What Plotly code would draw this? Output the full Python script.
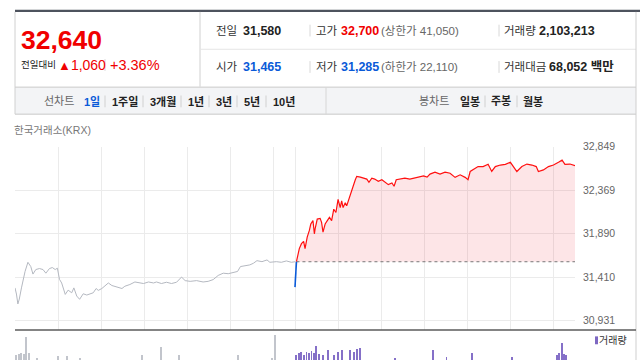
import plotly.graph_objects as go

# ---------------- data ----------------
# previous trading day intraday (minutes from 09:00, price)
prev_min = [0, 2, 4, 6, 9, 14, 18, 22, 25, 29, 34, 39, 43, 48, 52, 56, 59, 62, 65, 70,
            74, 79, 82, 86, 90, 95, 100, 104, 109, 113, 116, 121, 125, 130, 135, 139, 144, 149, 153, 160,
            167, 174, 179, 186, 193, 197, 204, 211, 218, 225, 232, 237, 244, 253, 262, 269, 276, 283, 290, 297,
            304, 310, 314, 320, 327, 332, 337, 344, 351, 355, 364, 371, 378, 385, 390]
prev_price = [31292, 31224, 31115, 31169, 31292, 31473, 31574, 31527, 31444, 31494, 31505, 31494, 31454, 31505, 31516, 31494, 31509, 31386, 31346, 31220,
              31267, 31238, 31292, 31202, 31166, 31227, 31213, 31227, 31238, 31285, 31264, 31285, 31310, 31346, 31318, 31310, 31292, 31285, 31310, 31329,
              31357, 31346, 31340, 31357, 31346, 31357, 31340, 31354, 31340, 31354, 31411, 31372, 31364, 31372, 31357, 31364, 31383, 31429, 31454, 31448,
              31459, 31473, 31527, 31538, 31545, 31563, 31592, 31581, 31600, 31574, 31581, 31574, 31589, 31574, 31580]

prev_close = 31580

# today: part below previous close (blue) and above (red)
down_min = [390, 392]
down_price = [31300, 31580]

up_min = [392, 396, 399, 402, 404, 407, 410, 412, 415, 417, 418, 421, 425, 427, 429, 432, 435, 438, 441, 444,
          447, 450, 453, 455, 457, 460, 462, 464, 467, 469, 471, 474, 476, 481, 485, 490, 493, 497, 501, 506,
          511, 515, 520, 525, 528, 531, 536, 543, 550, 557, 564, 569, 574, 578, 585, 592, 599, 606, 613, 620,
          627, 631, 634, 638, 645, 652, 659, 664, 669, 676, 683, 690, 694, 699, 706, 713, 720, 726, 729, 736,
          743, 750, 757, 762, 766, 773, 780]
up_price = [31580, 31725, 31779, 31805, 31725, 31852, 31925, 31996, 32033, 31888, 31942, 32050, 32058, 32015, 31906, 31996, 32033, 32069, 32033, 32159,
            32123, 32267, 32177, 32250, 32177, 32231, 32196, 32250, 32321, 32375, 32412, 32484, 32521, 32513, 32502, 32491, 32456, 32502, 32491, 32466,
            32484, 32456, 32430, 32448, 32412, 32484, 32491, 32502, 32491, 32502, 32513, 32527, 32513, 32546, 32567, 32546, 32567, 32556, 32510, 32538,
            32510, 32484, 32575, 32592, 32629, 32629, 32654, 32575, 32629, 32646, 32654, 32676, 32629, 32575, 32629, 32657, 32646, 32629, 32575, 32592,
            32629, 32646, 32676, 32700, 32654, 32657, 32640]

# volume (shares)
prev_vol_min = [1, 5, 8, 12, 15, 19, 30, 60, 72, 91, 177, 204, 229, 311, 358, 362]
prev_vol = [4700, 5300, 6300, 5700, 23000, 6300, 1300, 3700, 3700, 1300, 4700, 13000, 4700, 4700, 2000, 25300]
today_vol_min = [392, 396, 399, 403, 406, 410, 413, 417, 419, 423, 429, 436, 444, 450, 455, 467, 472, 476, 480, 529,
                 582, 601, 636, 692, 755, 758, 762, 765, 768]
today_vol = [4700, 6300, 7300, 4700, 8000, 6300, 8700, 6300, 14000, 5300, 4700, 9700, 4700, 8000, 9700, 9700, 7300, 10700, 11300, 1300,
             9700, 3000, 6300, 3000, 4700, 6300, 17300, 5300, 4700]

# axis ticks
y_ticks = [30931, 31410, 31890, 32369, 32849]
y_range = [30833, 32849]
x_grid = [0, 60, 120, 180, 240, 300, 360, 390, 450, 510, 570, 630, 690, 750]
x_range = [0, 780]

# header info
cur_price = "32,640"
change_label = "전일대비"
change_arrow = "▲"
change_val = "1,060"
change_pct = "+3.36%"
prev_close_txt = "31,580"
open_txt = "31,465"
high_txt = "32,700"
low_txt = "31,285"
upper_limit = "(상한가 41,050)"
lower_limit = "(하한가 22,110)"
volume_txt = "2,103,213"
value_txt = "68,052"
periods = ["1일", "1주일", "3개월", "1년", "3년", "5년", "10년"]
period_x = [84, 112, 150, 188, 216, 244, 273]
candles = ["일봉", "주봉", "월봉"]
candle_x = [460, 491, 523]

RED = "#f00000"
BLUE = "#0a5ad8"
W, H = 640, 360
FONT = "Liberation Sans, Noto Sans CJK KR, sans-serif"


def px(x):
    return x / W


def py(y):
    return 1 - y / H


fig = go.Figure()

# price traces
fig.add_trace(go.Scatter(x=prev_min, y=prev_price, mode="lines",
                         line=dict(color="#b4b8c0", width=1), xaxis="x", yaxis="y",
                         hoverinfo="skip", showlegend=False))
# baseline (previous close) - dotted, fill target
fig.add_trace(go.Scatter(x=[up_min[0], up_min[-1]], y=[prev_close, prev_close], mode="lines",
                         line=dict(color="#777777", width=1, dash="dot"), xaxis="x", yaxis="y",
                         hoverinfo="skip", showlegend=False))
fig.add_trace(go.Scatter(x=up_min, y=up_price, mode="lines", fill="tonexty",
                         fillcolor="rgba(240,20,40,0.11)",
                         line=dict(color="#ff1010", width=1.2), xaxis="x", yaxis="y",
                         hoverinfo="skip", showlegend=False))
fig.add_trace(go.Scatter(x=down_min, y=down_price, mode="lines",
                         line=dict(color=BLUE, width=1.6), xaxis="x", yaxis="y",
                         hoverinfo="skip", showlegend=False))

# volume bars
fig.add_trace(go.Bar(x=prev_vol_min, y=prev_vol, width=1.3, marker=dict(color="#c2c5cc", line=dict(width=0)),
                     xaxis="x2", yaxis="y2", hoverinfo="skip", showlegend=False))
fig.add_trace(go.Bar(x=today_vol_min, y=today_vol, width=1.3, marker=dict(color="#8570c8", line=dict(width=0)),
                     xaxis="x2", yaxis="y2", hoverinfo="skip", showlegend=False))

shapes = []


def hline(x0, x1, y, color, width=1):
    shapes.append(dict(type="line", xref="paper", yref="paper", x0=px(x0), x1=px(x1), y0=py(y), y1=py(y),
                       line=dict(color=color, width=width)))


def vline(x, y0, y1, color, width=1):
    shapes.append(dict(type="line", xref="paper", yref="paper", x0=px(x), x1=px(x), y0=py(y0), y1=py(y1),
                       line=dict(color=color, width=width)))


# toolbar background
shapes.append(dict(type="rect", xref="paper", yref="paper", x0=px(15), x1=px(636), y0=py(110), y1=py(83),
                   fillcolor="#f3f4f6", line=dict(width=0), layer="below"))
hline(15, 640, 5, "#4e535e", 2.2)
vline(200, 6, 82, "#d0d0d0")
hline(200, 636, 44, "#e6e6e6")
hline(15, 636, 82.5, "#c8c8c8")
hline(15, 636, 110, "#c8c8c8")
vline(15, 6, 110, "#d0d0d0")
vline(636, 6, 360, "#cfcfcf")
vline(326, 83, 110, "#d6d6d6")
# small separators
for sx, sy in [(105, 60), (310, 25), (310, 62), (499, 25), (499, 62)]:
    vline(sx, sy - 6, sy + 6, "#d8d8d8")
for sx in [105, 143, 181, 209, 237, 266, 485, 517]:
    vline(sx, 91, 103, "#d0d0d0")
# chart bottom axis line
hline(15, 636, 329.5, "#5b5b5b", 1.6)
# legend marker for volume
shapes.append(dict(type="rect", xref="paper", yref="paper", x0=px(595), x1=px(598), y0=py(344), y1=py(336),
                   fillcolor="#7e68c2", line=dict(width=0)))

annotations = []


def txt(x, y, text, size, color="#333333", bold=False, anchor="left"):
    if bold:
        text = "<b>" + text + "</b>"
    annotations.append(dict(x=px(x), y=py(y), xref="paper", yref="paper", text=text, showarrow=False,
                            xanchor=anchor, yanchor="middle", font=dict(size=size, color=color, family=FONT),
                            borderpad=0, xshift=-1))


txt(21, 35, cur_price, 26.5, RED, bold=True)
txt(21, 60, change_label, 9.5, "#222222")
txt(58, 60, "<span style='font-size:13px'>" + change_arrow + "</span>" + change_val, 14, RED)
txt(110, 60, change_pct, 14.5, RED)

txt(216, 25, "전일", 11.5, "#333333")
txt(243, 25, prev_close_txt, 12.5, "#222222", bold=True)
txt(216, 62, "시가", 11.5, "#333333")
txt(243, 62, open_txt, 12.5, BLUE, bold=True)
txt(316, 25, "고가", 11.5, "#333333")
txt(341, 25, high_txt, 12.5, RED, bold=True)
txt(381, 25, upper_limit, 11.5, "#666666")
txt(316, 62, "저가", 11.5, "#333333")
txt(341, 62, low_txt, 12.5, BLUE, bold=True)
txt(381, 62, lower_limit, 11.5, "#666666")
txt(504, 25, "거래량", 11.5, "#333333")
txt(539, 25, volume_txt, 12.5, "#222222", bold=True)
txt(504, 62, "거래대금", 11.5, "#333333")
txt(549, 62, value_txt + " 백만", 12.5, "#222222", bold=True)

txt(44, 97, "선차트", 11, "#666666")
for i, (lab, lx) in enumerate(zip(periods, period_x)):
    txt(lx, 97, lab, 11, BLUE if i == 0 else "#222222", bold=True)
txt(419, 97, "봉차트", 11, "#666666")
for lab, lx in zip(candles, candle_x):
    txt(lx, 97, lab, 11, "#222222", bold=True)

txt(14, 126, "한국거래소(KRX)", 10.5, "#777777")
txt(599, 340, "거래량", 10, "#333333")

x_dom = [px(15), px(575)]
fig.update_layout(
    width=W, height=H, autosize=False,
    margin=dict(l=0, r=0, t=0, b=0),
    paper_bgcolor="white", plot_bgcolor="rgba(0,0,0,0)",
    font=dict(family=FONT, color="#555555"),
    bargap=0,
    xaxis=dict(domain=x_dom, range=x_range, tickvals=x_grid, showticklabels=False, ticks="",
               showgrid=True, gridcolor="#ebebeb", gridwidth=1, zeroline=False, showline=False,
               anchor="y", fixedrange=True),
    yaxis=dict(domain=[py(329), py(143)], range=y_range, side="right", tickvals=y_ticks,
               ticktext=[f"{v:,}" for v in y_ticks], tickfont=dict(size=10.5, color="#666666", family=FONT),
               ticks="", ticklabelstandoff=7, showgrid=True, gridcolor="#ebebeb", gridwidth=1,
               zeroline=False, showline=False, anchor="x", fixedrange=True),
    xaxis2=dict(domain=x_dom, range=x_range, showticklabels=False, ticks="", showgrid=False,
                zeroline=False, showline=False, anchor="y2", matches="x", fixedrange=True),
    yaxis2=dict(domain=[0, py(331)], range=[0, 29000], showticklabels=False, ticks="", showgrid=False,
                zeroline=False, showline=False, anchor="x2", fixedrange=True),
    shapes=shapes,
    annotations=annotations,
    showlegend=False,
)

fig.write_html("out.html", config={"displayModeBar": False},
               post_script="document.body.style.margin='0px';document.body.style.overflow='hidden';")
